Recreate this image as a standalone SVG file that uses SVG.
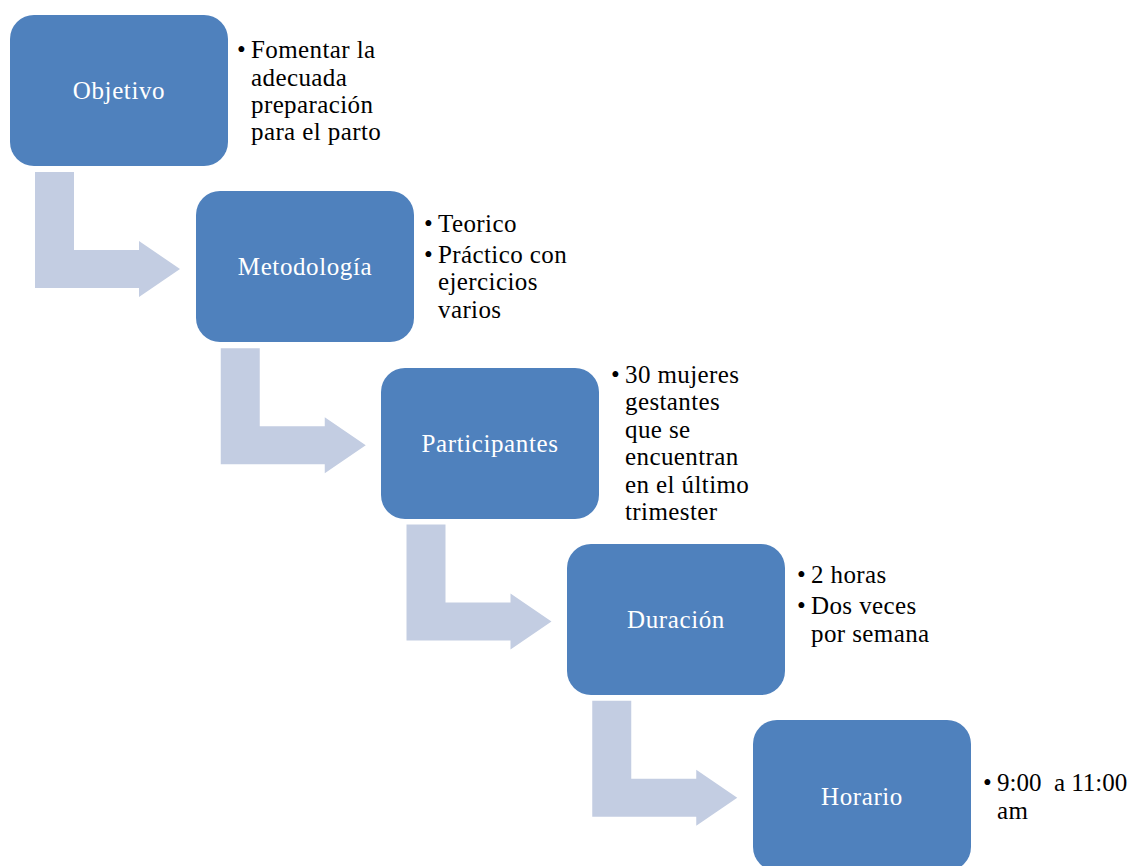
<svg xmlns="http://www.w3.org/2000/svg" width="1127" height="866" viewBox="0 0 1127 866">
<style>
.box{fill:#4F81BD}
.arr{fill:#C3CDE2}
.lbl{font-family:"Liberation Serif","Times New Roman",serif;font-size:25px;fill:#FFFFFF;text-anchor:middle;letter-spacing:0.6px}
.txt{font-family:"Liberation Serif","Times New Roman",serif;font-size:25px;fill:#000000;letter-spacing:0.4px;white-space:pre}
.tight{letter-spacing:0px}
</style>
<defs>
<path id="arrow" d="M35,172 H74 V250 H139 V241 L180,269 L139,297 V288 H35 Z"/>
</defs>
<rect width="1127" height="866" fill="#FFFFFF"/>
<g id="connectors">
<use href="#arrow" class="arr"/>
<use href="#arrow" class="arr" transform="translate(185.75,176.25)"/>
<use href="#arrow" class="arr" transform="translate(371.5,352.5)"/>
<use href="#arrow" class="arr" transform="translate(557.25,528.75)"/>
</g>
<g id="objetivo">
<rect class="box" x="10" y="15" width="218" height="151" rx="24"/>
<text class="lbl" x="119" y="99">Objetivo</text>
<text class="txt" x="237" y="58">•</text>
<text class="txt" x="251" y="58">Fomentar la</text>
<text class="txt" x="251" y="86">adecuada</text>
<text class="txt" x="251" y="113">preparación</text>
<text class="txt" x="251" y="140">para el parto</text>
</g>
<g id="metodologia">
<rect class="box" x="196" y="191" width="218" height="151" rx="24"/>
<text class="lbl" x="305" y="275">Metodología</text>
<text class="txt" x="424" y="232">•</text>
<text class="txt" x="438" y="232">Teorico</text>
<text class="txt" x="424" y="263">•</text>
<text class="txt" x="438" y="263">Práctico con</text>
<text class="txt" x="438" y="290">ejercicios</text>
<text class="txt" x="438" y="318">varios</text>
</g>
<g id="participantes">
<rect class="box" x="381" y="368" width="218" height="151" rx="24"/>
<text class="lbl" x="490" y="452">Participantes</text>
<text class="txt" x="611" y="383">•</text>
<text class="txt" x="625" y="383">30 mujeres</text>
<text class="txt" x="625" y="410">gestantes</text>
<text class="txt" x="625" y="438">que se</text>
<text class="txt" x="625" y="465">encuentran</text>
<text class="txt" x="625" y="493">en el último</text>
<text class="txt" x="625" y="520">trimester</text>
</g>
<g id="duracion">
<rect class="box" x="567" y="544" width="218" height="151" rx="24"/>
<text class="lbl" x="676" y="628">Duración</text>
<text class="txt" x="797" y="583">•</text>
<text class="txt" x="811" y="583">2 horas</text>
<text class="txt" x="797" y="614">•</text>
<text class="txt" x="811" y="614">Dos veces</text>
<text class="txt" x="811" y="642">por semana</text>
</g>
<g id="horario">
<rect class="box" x="753" y="720" width="218" height="151" rx="24"/>
<text class="lbl" x="862" y="805">Horario</text>
<text class="txt" x="983" y="791">•</text>
<text class="txt tight" x="997" y="791">9:00  a 11:00</text>
<text class="txt" x="997" y="819">am</text>
</g>
</svg>
